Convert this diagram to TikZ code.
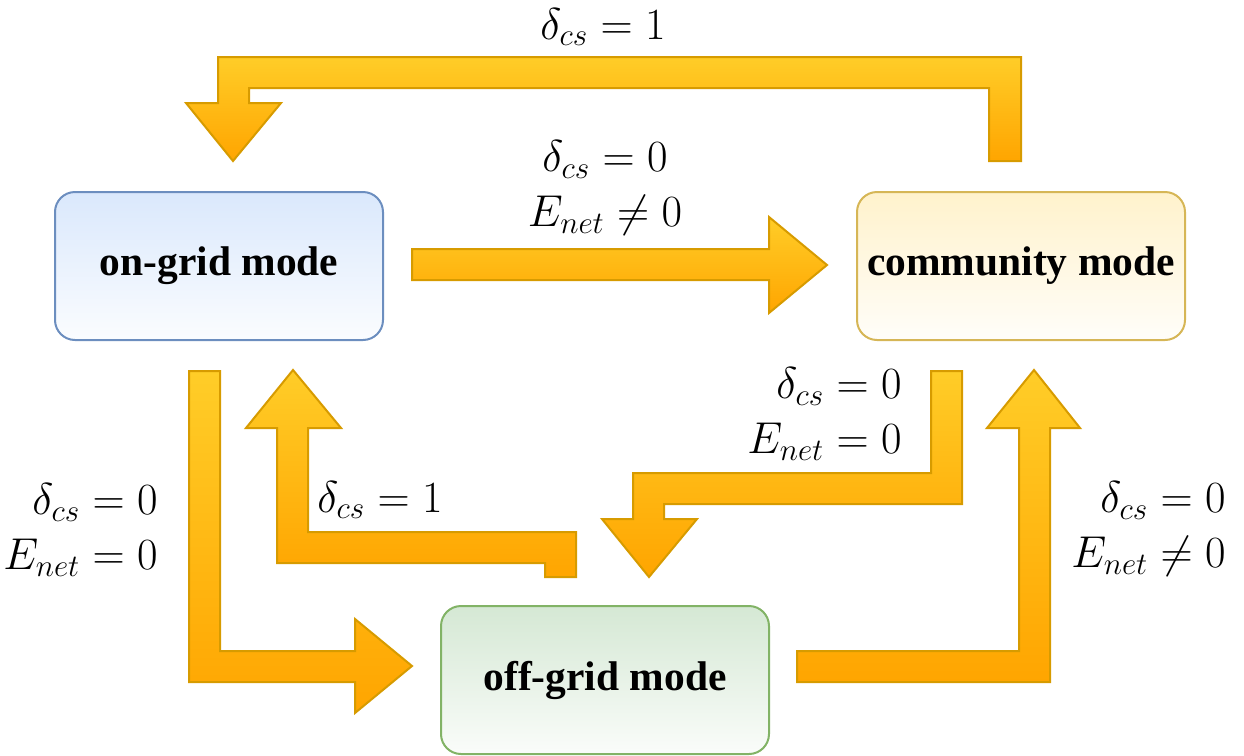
\RequirePackage{fix-cm}
\documentclass[tikz,border=0pt]{standalone}
\usepackage{fontspec}
\newfontfamily\modefont{Liberation Serif}

\definecolor{arrowtop}{HTML}{FFCD28}
\definecolor{arrowbot}{HTML}{FFA500}
\definecolor{arrowline}{HTML}{D79B00}
\definecolor{onfill}{HTML}{DAE8FC}
\definecolor{online}{HTML}{6C8EBF}
\definecolor{comfill}{HTML}{FFF2CC}
\definecolor{comline}{HTML}{D6B656}
\definecolor{offfill}{HTML}{D5E8D4}
\definecolor{offline}{HTML}{82B366}

\begin{document}
\begin{tikzpicture}[
    x=0.5pt, y=-0.5pt,
    mode box/.style 2 args={draw=#2, line width=1pt, rounded corners=10pt, top color=#1, bottom color=#1!12!white, minimum width=164pt, minimum height=74pt, font=\modefont\bfseries\huge},
    fat arrow/.style={draw=arrowline, line width=1pt, top color=arrowtop, bottom color=arrowbot},
    cond/.style={font=\fontsize{22.3pt}{27.2pt}\selectfont, inner sep=0pt}
]
\useasboundingbox (0,0) rectangle (1244,756);

% operating modes
\node [mode box={onfill}{online}] (ongrid) at (219,266) {on-grid mode};
\node [mode box={comfill}{comline}] (community) at (1021,266) {community mode};
\node [mode box={offfill}{offline}] (offgrid) at (605,680) {off-grid mode};

% transitions
\draw [fat arrow] (989,161) -- (989,88) -- (249,88) -- (249,103) -- (281,103) -- (233,161) -- (186,103) -- (218,103) -- (218,57) -- (1021,57) -- (1021,161) -- cycle;
\draw [fat arrow] (412,249) -- (769,249) -- (769,217) -- (827,265) -- (769,313) -- (769,280) -- (412,280) -- cycle;
\draw [fat arrow] (189,371) -- (220,371) -- (220,651) -- (355,651) -- (355,619) -- (412,666) -- (355,713) -- (355,682) -- (189,682) -- cycle;
\draw [fat arrow] (576,577) -- (545,577) -- (545,563) -- (277,563) -- (277,428) -- (246,428) -- (293,370) -- (341,428) -- (308,428) -- (308,532) -- (576,532) -- cycle;
\draw [fat arrow] (931,371) -- (962,371) -- (962,504) -- (664,504) -- (664,519) -- (697,519) -- (649,577) -- (602,519) -- (633,519) -- (633,473) -- (931,473) -- cycle;
\draw [fat arrow] (797,651) -- (1019,651) -- (1019,428) -- (987,428) -- (1034,370) -- (1080,428) -- (1050,428) -- (1050,682) -- (797,682) -- cycle;

% conditions
\node [cond] (c1) at (603,27) {$\delta_{cs}=1$};
\node [cond, align=center] (c2) at (605,188) {$\delta_{cs}=0$\\$E_{net}\neq 0$};
\node [cond, align=right, anchor=east] (c3) at (158,530) {$\delta_{cs}=0$\\$E_{net}=0$};
\node [cond, anchor=west] (c4) at (317,500) {$\delta_{cs}=1$};
\node [cond, align=right, anchor=east] (c5) at (902,414) {$\delta_{cs}=0$\\$E_{net}=0$};
\node [cond, align=right, anchor=east] (c6) at (1226,529) {$\delta_{cs}=0$\\$E_{net}\neq 0$};

\end{tikzpicture}
\end{document}
